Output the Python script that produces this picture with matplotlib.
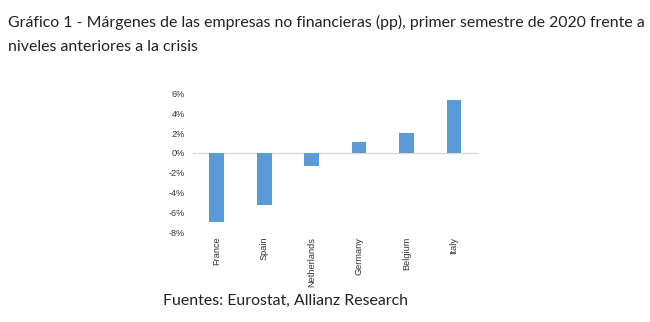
import matplotlib.pyplot as plt
import numpy as np
from matplotlib.ticker import FuncFormatter

# margins vs pre-crisis levels, percentage points
countries = ["France", "Spain", "Netherlands", "Germany", "Belgium", "Italy"]
margins = [-6.9, -5.2, -1.3, 1.1, 2.0, 5.3]
yticks = [-8, -6, -4, -2, 0, 2, 4, 6]

fig = plt.figure(figsize=(6.5, 3.22), dpi=100)
ax = fig.add_axes([0.297, 0.278, 0.438, 0.432])

x = np.arange(len(countries))
ax.bar(x, margins, width=0.31, color="#5B9BD5", zorder=2)
ax.axhline(0, color="#d9d9d9", lw=1, zorder=1)

ax.set_xlim(-0.5, len(countries) - 0.5)
ax.set_ylim(-8, 6)
ax.set_yticks(yticks)
ax.yaxis.set_major_formatter(FuncFormatter(lambda v, p: f"{v:.0f}%"))
ax.set_xticks(x)
ax.set_xticklabels(countries, rotation=90, va="top")
for s in ax.spines.values():
    s.set_visible(False)
ax.tick_params(axis="both", length=0, labelsize=6.6, colors="#333333")
ax.tick_params(axis="y", pad=6)
ax.tick_params(axis="x", pad=3)
for lab in ax.get_xticklabels() + ax.get_yticklabels():
    lab.set_family("Liberation Sans")

title_kw = dict(fontsize=11.4, family="Lato", color="#222222", va="center")
fig.text(0.012, 0.93, "Gráfico 1 - Márgenes de las empresas no financieras (pp), primer semestre de 2020 frente a",
         **title_kw)
fig.text(0.012, 0.855, "niveles anteriores a la crisis", **title_kw)
fig.text(0.251, 0.065, "Fuentes: Eurostat, Allianz Research", **title_kw)

fig.savefig("out.png", dpi=100)
